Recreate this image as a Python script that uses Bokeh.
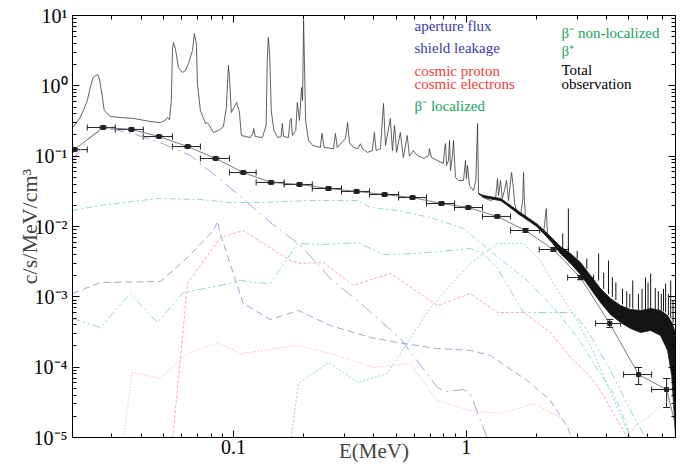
import math
from bokeh.plotting import figure
from bokeh.models import (FixedTicker, CustomJSTickFormatter, LogAxis, Whisker, TeeHead,
                          Legend, LegendItem, ColumnDataSource, Range1d, Label)
from bokeh.embed import file_html
from bokeh.resources import INLINE

# ---------------- data ----------------
# observed spectrum (thin line, low/mid energies)
obs_e = [0.0204, 0.0219, 0.0228, 0.0235, 0.0242, 0.0249, 0.0260, 0.0265, 0.0273, 0.0278,
         0.0295, 0.0326, 0.0371, 0.0439, 0.0484, 0.0507, 0.0519, 0.053, 0.0540, 0.0546,
         0.0551, 0.0562, 0.0579, 0.0603, 0.0621, 0.0640, 0.0666, 0.0678, 0.0692, 0.0699,
         0.0720, 0.0757, 0.077, 0.0787, 0.0819, 0.0861, 0.0904, 0.0931, 0.0950, 0.0960,
         0.0978, 0.103, 0.106, 0.108, 0.118, 0.121, 0.122, 0.124, 0.133, 0.138,
         0.1396, 0.141, 0.143, 0.1452, 0.149, 0.155, 0.160, 0.162, 0.164, 0.172,
         0.175, 0.177, 0.179, 0.185, 0.188, 0.192, 0.196, 0.198, 0.200, 0.204,
         0.210, 0.219, 0.236, 0.240, 0.245, 0.269, 0.274, 0.279, 0.297, 0.303,
         0.309, 0.315, 0.328, 0.342, 0.351, 0.358, 0.376, 0.395, 0.403, 0.41,
         0.428, 0.441, 0.45, 0.472, 0.482, 0.492, 0.502, 0.521, 0.537, 0.553,
         0.558, 0.57, 0.593, 0.617, 0.657, 0.69, 0.695, 0.709, 0.752, 0.798,
         0.806, 0.815, 0.823, 0.839, 0.848, 0.856, 0.873, 0.882, 0.899, 0.927,
         0.974, 0.993, 1.003, 1.013, 1.033, 1.075, 1.1, 1.119, 1.13, 1.186,
         1.272, 1.337, 1.364, 1.377, 1.405, 1.43, 1.46, 1.49, 1.52, 1.567,
         1.6, 1.614, 1.662, 1.712, 1.75, 1.764, 1.78, 1.799, 1.89, 2.03,
         2.15, 2.21, 2.24, 2.35]
obs_y = [0.256, 0.355, 0.477, 0.618, 0.946, 1.31, 1.45, 1.27, 0.682, 0.446,
         0.367, 0.355, 0.344, 0.311, 0.30, 0.321, 0.355, 0.33, 0.618, 3.18,
         4.13, 3.4, 1.82, 1.55, 1.65, 2.08, 3.18, 5.55, 4.0, 1.08,
         0.446, 0.291, 0.30, 0.273, 0.217, 0.232, 0.263, 0.492, 1.95, 1.31,
         0.418, 0.579, 0.418, 0.197, 0.184, 0.21, 0.247, 0.19, 0.184, 0.273,
         2.29, 4.86, 2.7, 0.446, 0.232, 0.184, 0.19, 0.291, 0.19, 0.184,
         0.321, 0.344, 0.197, 0.232, 0.579, 0.321, 0.946, 0.618, 8.5, 0.321,
         0.167, 0.142, 0.133, 0.21, 0.133, 0.128, 0.21, 0.133, 0.167, 0.18,
         0.301, 0.155, 0.133, 0.128, 0.15, 0.128, 0.113, 0.12, 0.217, 0.12,
         0.128, 0.561, 0.142, 0.344, 0.12, 0.273, 0.113, 0.217, 0.0957, 0.167,
         0.197, 0.1, 0.12, 0.102, 0.0927, 0.102, 0.128, 0.0957, 0.0867, 0.0787,
         0.12, 0.151, 0.0736, 0.0867, 0.167, 0.0625, 0.102, 0.167, 0.0498, 0.0451,
         0.0451, 0.0867, 0.048, 0.0736, 0.0383, 0.0325, 0.045, 0.291, 0.0294, 0.0258,
         0.0234, 0.025, 0.0481, 0.0276, 0.0451, 0.025, 0.0325, 0.0451, 0.0234, 0.0586,
         0.0325, 0.0212, 0.0153, 0.0143, 0.0234, 0.0586, 0.0234, 0.0134, 0.0122, 0.0097,
         0.00795, 0.018, 0.00697, 0.00633]

# observed spectrum, noisy high-energy part: upper / lower envelope of the band
band_e  = [1.13, 1.19, 1.41, 1.71, 2.03, 2.35, 2.54, 2.81, 3.10, 3.42, 3.78, 4.17, 4.61, 5.09,
           5.62, 6.21, 6.85, 7.34, 7.65, 7.87, 7.94]
band_hi = [0.0294, 0.0276, 0.025, 0.0158, 0.0107, 0.00675, 0.0052, 0.00413, 0.00308, 0.00201,
           0.00131, 0.000946, 0.000753, 0.000661, 0.00064, 0.000683, 0.00064, 0.000543, 0.000432,
           0.000332, 0.000124]
band_lo = [0.0294, 0.0258, 0.0232, 0.0145, 0.0098, 0.0058, 0.00413, 0.00298, 0.00208, 0.00131,
           0.00083, 0.000561, 0.000432, 0.000355, 0.000311, 0.000332, 0.000282, 0.000173, 7.61e-5,
           1.74e-5, 1e-5]
# narrow lines sticking out of the band
spk_e    = [2.6, 2.75, 3.0, 3.3, 3.71, 3.9, 4.09, 4.25, 4.4, 4.7, 4.9, 5.05, 5.2, 5.5, 5.7, 5.9,
            6.05, 6.21, 6.5, 6.7, 6.9, 7.05, 7.2, 7.4, 7.57, 7.75]
spk_base = [0.0048, 0.0045, 0.0035, 0.0025, 0.0017, 0.0013, 0.0011, 0.001, 0.0009, 0.00078,
            0.0007, 0.0007, 0.00068, 0.00065, 0.00066, 0.00065, 0.00068, 0.00068, 0.00066,
            0.00065, 0.00064, 0.00062, 0.0006, 0.00055, 0.0005, 0.00042]
spk_top  = [0.00795, 0.018, 0.0045, 0.0035, 0.00413, 0.0022, 0.00328, 0.0019, 0.0016, 0.0013,
            0.0012, 0.0011, 0.00171, 0.0011, 0.0013, 0.00188, 0.0016, 0.00215, 0.00134, 0.0012,
            0.0011, 0.0013, 0.00154, 0.0011, 0.00171, 0.0009]

# binned points with error bars
pts_e   = [0.0207, 0.0275, 0.0364, 0.0478, 0.0635, 0.0838, 0.110, 0.145, 0.192, 0.256, 0.338,
           0.446, 0.588, 0.783, 1.02, 1.36, 1.80, 2.37, 3.10, 4.14, 5.51, 7.27]
pts_y   = [0.124, 0.256, 0.240, 0.190, 0.137, 0.0927, 0.0586, 0.0423, 0.0396, 0.0347, 0.0315,
           0.0285, 0.0258, 0.0212, 0.0186, 0.0139, 0.00877, 0.00471, 0.00188, 4.18e-4, 7.85e-5, 4.81e-5]
pts_elo = [0.0204, 0.0235, 0.031, 0.0409, 0.0546, 0.072, 0.096, 0.125, 0.165, 0.218, 0.291,
           0.384, 0.512, 0.675, 0.891, 1.175, 1.55, 2.06, 2.73, 3.60, 4.75, 6.27]
pts_ehi = [0.0235, 0.031, 0.0409, 0.0546, 0.072, 0.096, 0.125, 0.165, 0.218, 0.291, 0.384,
           0.512, 0.675, 0.891, 1.175, 1.55, 2.07, 2.75, 3.53, 4.61, 6.27, 7.94]
pts_ylo = [0.119, 0.246, 0.231, 0.183, 0.132, 0.089, 0.0563, 0.0406, 0.038, 0.0333, 0.0302,
           0.0274, 0.0248, 0.0203, 0.0178, 0.0133, 0.0083, 0.00445, 0.00175, 3.66e-4, 5.66e-5, 2.67e-5]
pts_yhi = [0.129, 0.266, 0.250, 0.198, 0.142, 0.0965, 0.061, 0.044, 0.0412, 0.0361, 0.0328,
           0.0296, 0.0268, 0.0221, 0.0194, 0.0145, 0.0093, 0.005, 0.00202, 4.77e-4, 9.89e-5, 6.90e-5]

# Total (line through the binned points)
tot_e = [0.0207, 0.0275, 0.0364, 0.0478, 0.0635, 0.0838, 0.110, 0.145, 0.192, 0.256, 0.338,
         0.446, 0.588, 0.783, 1.02, 1.36, 1.80, 2.37, 3.10, 4.14, 5.51, 7.27, 7.94]
tot_y = [0.124, 0.256, 0.240, 0.190, 0.137, 0.0927, 0.0586, 0.0423, 0.0396, 0.0347, 0.0315,
         0.0285, 0.0258, 0.0212, 0.0186, 0.0139, 0.00877, 0.00471, 0.00188, 4.18e-4, 7.85e-5, 4.81e-5, 1.5e-5]

# aperture flux
ap_e = [0.0203, 0.0238, 0.0273, 0.031, 0.0378, 0.0484, 0.0653, 0.0835, 0.107, 0.144, 0.194,
        0.261, 0.369, 0.521, 0.752, 0.815, 0.974, 1.04, 1.23, 1.4]
ap_y = [0.0867, 0.178, 0.247, 0.239, 0.203, 0.156, 0.102, 0.0531, 0.0267, 0.0114, 0.00537,
        0.00182, 0.000705, 0.000255, 5.14e-5, 4.51e-5, 4.81e-5, 4.22e-5, 1e-5, 3e-6]
# shield leakage
sh_e = [0.0203, 0.0267, 0.0484, 0.0634, 0.0819, 0.0853, 0.0879, 0.110, 0.144, 0.190, 0.261,
        0.388, 0.507, 0.752, 1.04, 1.27, 1.51, 1.83, 2.30, 2.73, 2.95]
sh_y = [0.00111, 0.0016, 0.00165, 0.00362, 0.00877, 0.0118, 0.00769, 0.000803, 0.000476, 0.00064,
        0.000391, 0.000264, 0.000224, 0.000184, 0.000173, 0.000147, 9.89e-5, 6.46e-5, 3.36e-5,
        1.39e-5, 7e-6]
# cosmic proton
pr_e = [0.0540, 0.0634, 0.0879, 0.110, 0.175, 0.194, 0.243, 0.328, 0.472, 0.752, 1.04, 1.364,
        1.764, 2.30, 2.81, 3.32, 3.78, 4.30, 4.75, 5.09]
pr_y = [6e-6, 0.00155, 0.00697, 0.00877, 0.00328, 0.00298, 0.00308, 0.00145, 0.00215, 0.000753,
        0.00111, 0.000598, 0.000598, 0.000311, 0.000137, 8.13e-5, 4.66e-5, 2.19e-5, 1.26e-5, 7e-6]
# cosmic electrons
el_e = [0.0329, 0.0367, 0.0484, 0.0634, 0.0853, 0.107, 0.188, 0.261, 0.399, 0.576, 0.752, 1.04,
        1.41, 1.95, 2.54, 3.01, 3.42, 4.39, 5.35, 6.40, 7.65]
el_y = [6e-6, 8.4e-5, 6.9e-5, 0.000156, 0.000224, 0.000156, 0.000203, 0.000156, 9.89e-5,
        0.000113, 3.36e-5, 2.42e-5, 2.19e-5, 3.04e-5, 1.92e-5, 1.07e-5, 6e-6, 6e-6, 1.48e-5,
        2.26e-5, 3.83e-5]
# beta- localized
bl_e = [0.0203, 0.0267, 0.036, 0.047, 0.0608, 0.0879, 0.107, 0.122, 0.144, 0.188, 0.243, 0.342,
        0.441, 0.617, 1.04, 1.186, 1.364, 1.55, 1.764, 2.90, 3.42, 4.17, 5.09, 5.90, 6.51]
bl_y = [0.000492, 0.000366, 0.00111, 0.000432, 0.00115, 0.00145, 0.00171, 0.0016, 0.00155,
        0.00573, 0.00555, 0.00591, 0.004, 0.00413, 0.00487, 0.00413, 0.00253, 0.00123, 0.000598,
        0.000598, 0.000282, 8.96e-5, 2.42e-5, 1e-5, 5e-6]
# beta- non-localized
bn_e = [0.0203, 0.0267, 0.047, 0.072, 0.0969, 0.134, 0.208, 0.342, 0.388, 0.507, 0.702, 0.974,
        1.31, 1.83, 2.37, 3.01, 3.53, 4.30, 4.75, 5.09, 5.62]
bn_y = [0.0169, 0.0199, 0.025, 0.0242, 0.0219, 0.0219, 0.0234, 0.0234, 0.0186, 0.0169, 0.0134,
        0.00936, 0.00413, 0.00171, 0.000705, 0.000264, 0.000113, 4.22e-5, 1.92e-5, 1e-5, 4e-6]
# beta+
bp_e = [0.175, 0.190, 0.256, 0.342, 0.459, 0.702, 1.04, 1.364, 1.764, 2.09, 2.37, 2.90, 3.42,
        3.97, 4.61, 5.09, 5.62]
bp_y = [7.7e-6, 5.85e-5, 0.000116, 6.05e-5, 8.13e-5, 0.000705, 0.00298, 0.00573, 0.00573,
        0.00328, 0.00155, 0.000543, 0.000203, 6.46e-5, 2.06e-5, 1e-5, 5e-6]

x_major = [0.1, 1]
y_major = [1e-5, 1e-4, 1e-3, 1e-2, 1e-1, 1, 10]

legend_labels = ["aperture flux", "shield leakage", "cosmic proton", "cosmic electrons",
                 "\u03b2\u207b localized", "\u03b2\u207b non-localized", "\u03b2\u207a",
                 "Total", "observation"]

# ---------------- styling ----------------
FONT = "Liberation Serif"
BLUE_L, RED_L, GREEN_L = "#a4a4dc", "#ffa4a4", "#8edcb8"
BLUE, RED, GREEN = "#3b3ba8", "#f03c3c", "#12a65a"

p = figure(width=690, height=468, x_axis_type="log", y_axis_type="log",
           x_range=Range1d(0.0203, 7.94), y_range=Range1d(1e-5, 10),
           output_backend="svg", toolbar_location=None,
           min_border_left=72, min_border_right=15, min_border_top=15, min_border_bottom=31)
p.grid.visible = False
p.outline_line_color = "black"
p.background_fill_color = "white"
p.border_fill_color = "white"

x_minor = [m * d for d in (0.01, 0.1, 1) for m in range(2, 10)]
y_minor = [m * 10.0 ** k for k in range(-5, 1) for m in range(2, 10)]
xt = FixedTicker(ticks=x_major, minor_ticks=x_minor)
yt = FixedTicker(ticks=y_major, minor_ticks=y_minor)

xfmt = CustomJSTickFormatter(code="return String(Number(tick.toPrecision(3)));")
yfmt = CustomJSTickFormatter(code="""
const e = Math.round(Math.log10(tick));
const m = {'-':'\\u207b','0':'\\u2070','1':'\\u00b9','2':'\\u00b2','3':'\\u00b3','4':'\\u2074',
           '5':'\\u2075','6':'\\u2076','7':'\\u2077','8':'\\u2078','9':'\\u2079'};
return '10' + String(e).split('').map(c => m[c]).join('');
""")
blank = CustomJSTickFormatter(code="return '';")

def style_axis(ax, ticker, fmt, size):
    ax.ticker = ticker
    ax.formatter = fmt
    ax.major_tick_in = 7
    ax.major_tick_out = 0
    ax.minor_tick_in = 4
    ax.minor_tick_out = 0
    ax.axis_line_color = "black"
    ax.major_tick_line_color = "black"
    ax.minor_tick_line_color = "black"
    ax.major_label_text_font = FONT
    ax.major_label_text_font_size = size
    ax.major_label_text_color = "black"

xa = p.xaxis[0]
style_axis(xa, xt, xfmt, "20px")
xa.major_label_standoff = 2
xa.axis_label = "E(MeV)"
xa.axis_label_text_font = FONT
xa.axis_label_text_font_size = "21px"
xa.axis_label_text_font_style = "normal"
xa.axis_label_standoff = -18

ya = p.yaxis[0]
style_axis(ya, yt, yfmt, "20px")
ya.major_label_standoff = 5
ya.axis_label = "c/s/MeV/cm\u00b3"
ya.axis_label_text_font = FONT
ya.axis_label_text_font_size = "22px"
ya.axis_label_text_font_style = "normal"
ya.axis_label_standoff = -11

ra = LogAxis()
style_axis(ra, yt, blank, "0px")
ra.major_label_standoff = 0
p.add_layout(ra, "right")
ta = LogAxis()
style_axis(ta, xt, blank, "0px")
ta.major_label_standoff = 0
p.add_layout(ta, "above")

# model components
p.line(ap_e, ap_y, line_color=BLUE_L, line_dash="14 5 2 5", line_width=1)
p.line(sh_e, sh_y, line_color=BLUE_L, line_dash="7 4", line_width=1)
p.line(pr_e, pr_y, line_color=RED_L, line_dash="3 2", line_width=1)
p.line(el_e, el_y, line_color=RED_L, line_dash="1 2", line_width=1)
p.line(bl_e, bl_y, line_color=GREEN_L, line_dash="8 3 2 3 2 3", line_width=1)
p.line(bn_e, bn_y, line_color=GREEN_L, line_dash="6 3 2 3", line_width=1)
p.line(bp_e, bp_y, line_color=GREEN_L, line_dash="2 2", line_width=1)

# observation
p.line(obs_e, obs_y, line_color="#3a3a3a", line_width=0.8)
p.patch(band_e + band_e[::-1], band_hi + band_lo[::-1], fill_color="#141414", line_color="#141414",
        line_width=0.8)
p.segment(spk_e, spk_base, spk_e, spk_top, line_color="#141414", line_width=1)

# total + binned points
p.line(tot_e, tot_y, line_color="#5a5a5a", line_width=0.8)
src = ColumnDataSource(dict(e=pts_e, y=pts_y, elo=pts_elo, ehi=pts_ehi, ylo=pts_ylo, yhi=pts_yhi))
p.add_layout(Whisker(source=src, base="y", lower="elo", upper="ehi", dimension="width",
                     line_color="#222222", line_width=1,
                     lower_head=TeeHead(size=6, line_color="#222222"),
                     upper_head=TeeHead(size=6, line_color="#222222")))
p.add_layout(Whisker(source=src, base="e", lower="ylo", upper="yhi", dimension="height",
                     line_color="#222222", line_width=1,
                     lower_head=TeeHead(size=7, line_color="#222222"),
                     upper_head=TeeHead(size=7, line_color="#222222")))
p.scatter("e", "y", source=src, marker="square", size=4, color="#222222")

# legend: line samples via Legend (empty label), texts via Label so they use the serif font
# (lx, cy) = sample position in px from the frame's bottom-left; tx = text start
legend_specs = [
    (BLUE, "16 9 2 4", 310, 412, 342, BLUE, 28),
    (BLUE, "7 4 2 4", 310, 390, 342, BLUE, 28),
    (RED, "3 2", 310, 367, 342, RED, 28),
    (RED, "1 3", 310, 354, 342, RED, 28),
    (GREEN, "9 4 2 3 2 3", 310, 332, 342, GREEN, 28),
    (GREEN, "6 3 2 3", 456, 405, 489, GREEN, 30),
    (GREEN, "2 2", 456, 387, 489, GREEN, 30),
    ("#555555", "solid", 456, 368, 489, "black", 30),
    ("black", "solid", 456, 354, 489, "black", 30),
]
for label, (lc, dash, lx, cy, tx, tc, gw) in zip(legend_labels, legend_specs):
    r = p.line(x=[], y=[], line_color=lc, line_dash=dash, line_width=1.2)
    lg = Legend(items=[LegendItem(label="", renderers=[r])], location=(lx, cy - 5),
                orientation="vertical", border_line_alpha=0, background_fill_alpha=0,
                label_text_font_size="1px", glyph_width=gw, glyph_height=10, label_height=10,
                label_standoff=0, padding=0, margin=0, spacing=0)
    p.add_layout(lg)
    p.add_layout(Label(x=tx, y=cy, x_units="screen", y_units="screen", text=label,
                       text_font=FONT, text_font_size="15px", text_color=tc,
                       text_align="left", text_baseline="middle"))

open("out.html", "w").write(file_html(p, INLINE))
